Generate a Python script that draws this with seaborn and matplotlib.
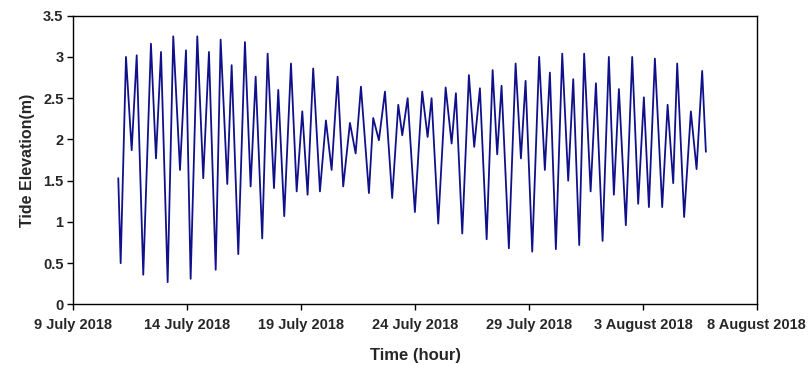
import numpy as np
import pandas as pd
import matplotlib.pyplot as plt
import matplotlib.dates as mdates
import seaborn as sns

# hours after 9 July 2018 00:00, read at the turning points of the curve
hours = [47.4, 49.9, 55.5, 61.5, 66.8, 73.7, 81.8, 87.1, 92.4, 99.4, 105.3, 112.4, 118.7, 123.6, 130.6,
         136.9, 142.9, 150.0, 155.2, 162.2, 166.8, 173.8, 180.8, 186.8, 192.1, 199.0, 204.7, 211.4, 215.9, 222.2, 229.3,
         235.3, 241.2, 246.8, 252.7, 259.8, 266.1, 272.1, 278.4, 284.3, 291.4, 297.4, 303.0, 311.4, 315.9, 321.9, 328.3,
         335.9, 342.3, 346.5, 352.2, 359.8, 367.5, 373.2, 377.4, 384.4, 392.2, 398.5, 403.0, 409.7, 416.7, 422.3, 428.3,
         435.4, 441.7, 446.5, 451.1, 458.8, 465.9, 471.5, 476.4, 483.4, 490.7, 496.7, 502.0, 508.3, 515.0, 521.3, 526.6,
         532.9, 538.1, 544.9, 550.5, 557.5, 564.1, 569.4, 574.7, 582.0, 588.7, 595.0, 601.0, 606.3, 612.6, 620.3, 626.0, 631.9,
         636.1, 643.4, 650.5, 656.5, 662.4, 666.3]

elevation = [1.53, 0.50, 3.00, 1.87, 3.02, 0.36, 3.16, 1.77, 3.06, 0.27, 3.25, 1.63, 3.08, 0.31, 3.25,
             1.53, 3.06, 0.42, 3.21, 1.46, 2.90, 0.61, 3.18, 1.43, 2.76, 0.80, 3.04, 1.41, 2.60, 1.07, 2.92,
             1.37, 2.34, 1.33, 2.86, 1.37, 2.23, 1.63, 2.76, 1.43, 2.20, 1.83, 2.64, 1.35, 2.26, 1.99, 2.58,
             1.29, 2.42, 2.05, 2.50, 1.12, 2.58, 2.03, 2.50, 0.98, 2.63, 1.95, 2.56, 0.86, 2.78, 1.91, 2.62,
             0.79, 2.84, 1.82, 2.65, 0.68, 2.92, 1.77, 2.71, 0.64, 3.00, 1.63, 2.81, 0.67, 3.04, 1.50, 2.73,
             0.72, 3.04, 1.37, 2.68, 0.77, 3.00, 1.33, 2.61, 0.96, 3.00, 1.22, 2.51, 1.18, 2.98, 1.18, 2.42, 1.47,
             2.92, 1.06, 2.34, 1.64, 2.83, 1.85]

start = pd.Timestamp('2018-07-09')
times = start + pd.to_timedelta(hours, unit='h')
df = pd.DataFrame({'time': times, 'elev': elevation})

sns.set_style('ticks')
plt.rcParams['font.family'] = ['Liberation Sans', 'DejaVu Sans']
plt.rcParams['font.weight'] = 'bold'

fig = plt.figure(figsize=(8.08, 3.65), dpi=100)
ax = fig.add_axes([0.0907, 0.166, 0.846, 0.791])

sns.lineplot(data=df, x='time', y='elev', color='#10108a', lw=1.3, ax=ax,
             solid_joinstyle='round')

ax.set_xlim(start, pd.Timestamp('2018-08-08'))
ax.set_ylim(0, 3.5)
ax.set_yticks(np.arange(0, 3.51, 0.5))
ax.set_yticklabels(['0', '0.5', '1', '1.5', '2', '2.5', '3', '3.5'])
ax.set_xticks(pd.date_range('2018-07-09', '2018-08-08', freq='5D'))
ax.xaxis.set_major_formatter(plt.FuncFormatter(
    lambda v, p: f"{mdates.num2date(v).day} {mdates.num2date(v):%B %Y}"))

for s in ax.spines.values():
    s.set_visible(True)
    s.set_color('black')
    s.set_linewidth(1.0)

ax.tick_params(direction='out', length=4, width=1, labelsize=10.5, color='black', pad=3)
ax.tick_params(axis='x', pad=6)
for lab in ax.get_xticklabels() + ax.get_yticklabels():
    lab.set_fontweight('bold')

ax.set_xlabel('Time (hour)', fontsize=12, fontweight='bold', labelpad=11)
ax.set_ylabel('Tide Elevation(m)', fontsize=11.5, fontweight='bold', labelpad=6)

fig.savefig('out.png', dpi=100)
